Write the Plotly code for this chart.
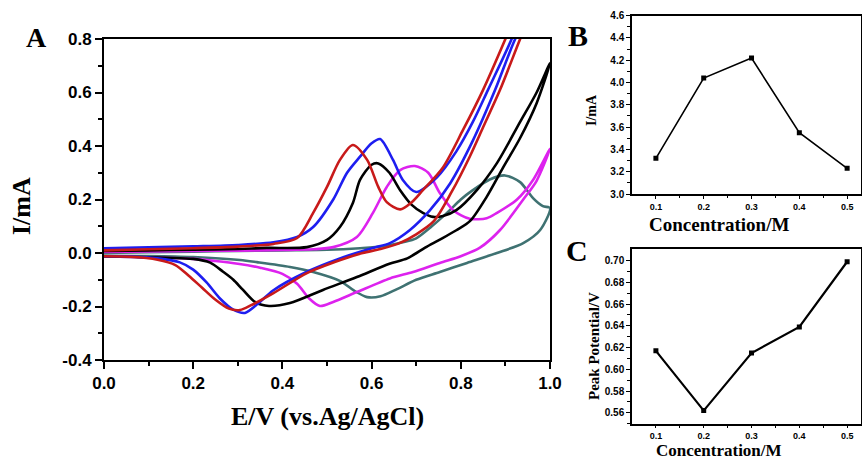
import plotly.graph_objects as go

# ---------------- Panel A data (E/V, I/mA) : each curve = forward + reverse scan
red_E = [0, 0.1, 0.2, 0.3, 0.38, 0.433, 0.469, 0.50, 0.529, 0.558, 0.59, 0.615, 0.634, 0.664, 0.69, 0.715, 0.76, 0.805, 0.85, 0.90, 0.95, 1.0,
         0.97, 0.933, 0.888, 0.85, 0.82, 0.78, 0.74, 0.70, 0.66, 0.62, 0.58, 0.53, 0.455, 0.38, 0.33, 0.305, 0.28, 0.25, 0.22, 0.19, 0.16, 0.12, 0.06, 0.0]
red_I = [0.010, 0.014, 0.018, 0.024, 0.034, 0.056, 0.15, 0.247, 0.348, 0.404, 0.348, 0.247, 0.19, 0.163, 0.19, 0.235, 0.32, 0.46, 0.61, 0.80, 1.0, 1.2,
         0.95, 0.80, 0.61, 0.47, 0.36, 0.23, 0.12, 0.07, 0.035, 0.015, 0.0, -0.026, -0.075, -0.15, -0.195, -0.213, -0.208, -0.175, -0.13, -0.085, -0.045, -0.025, -0.014, -0.012]

blue_E = [0, 0.1, 0.2, 0.3, 0.38, 0.433, 0.469, 0.514, 0.545, 0.574, 0.60, 0.619, 0.648, 0.67, 0.70, 0.747, 0.79, 0.827, 0.861, 0.914, 0.96, 1.0,
          0.97, 0.922, 0.877, 0.827, 0.776, 0.731, 0.686, 0.641, 0.603, 0.529, 0.455, 0.379, 0.345, 0.316, 0.29, 0.26, 0.23, 0.20, 0.17, 0.12, 0.06, 0.0]
blue_I = [0.018, 0.021, 0.025, 0.03, 0.04, 0.06, 0.097, 0.2, 0.3, 0.36, 0.41, 0.426, 0.348, 0.273, 0.228, 0.284, 0.38, 0.49, 0.61, 0.80, 1.0, 1.2,
          0.95, 0.80, 0.61, 0.42, 0.26, 0.16, 0.086, 0.037, 0.019, -0.02, -0.07, -0.14, -0.19, -0.224, -0.212, -0.17, -0.11, -0.062, -0.035, -0.02, -0.013, -0.012]

black_E = [0, 0.1, 0.2, 0.3, 0.365, 0.455, 0.5, 0.529, 0.558, 0.574, 0.60, 0.615, 0.64, 0.664, 0.69, 0.715, 0.738, 0.76, 0.79, 0.836, 0.881, 0.933, 0.97, 1.0,
           0.97, 0.933, 0.895, 0.858, 0.821, 0.79, 0.753, 0.72, 0.68, 0.64, 0.567, 0.491, 0.417, 0.37, 0.34, 0.31, 0.29, 0.267, 0.238, 0.20, 0.14, 0.07, 0.0]
black_I = [0.008, 0.01, 0.012, 0.015, 0.019, 0.022, 0.049, 0.097, 0.187, 0.273, 0.33, 0.335, 0.30, 0.235, 0.18, 0.15, 0.135, 0.138, 0.16, 0.235, 0.336, 0.49, 0.60, 0.71,
           0.56, 0.43, 0.32, 0.21, 0.12, 0.085, 0.05, 0.02, -0.02, -0.04, -0.09, -0.138, -0.187, -0.198, -0.185, -0.135, -0.10, -0.07, -0.036, -0.022, -0.018, -0.015, -0.013]

magenta_E = [0, 0.1, 0.2, 0.3, 0.4, 0.47, 0.514, 0.567, 0.603, 0.634, 0.664, 0.697, 0.727, 0.753, 0.783, 0.82, 0.858, 0.881, 0.926, 0.962, 1.0,
             0.97, 0.94, 0.888, 0.843, 0.80, 0.753, 0.693, 0.641, 0.567, 0.514, 0.484, 0.46, 0.433, 0.40, 0.35, 0.30, 0.25, 0.20, 0.10, 0.0]
magenta_I = [0.004, 0.006, 0.008, 0.009, 0.011, 0.014, 0.022, 0.06, 0.15, 0.247, 0.31, 0.325, 0.30, 0.224, 0.16, 0.128, 0.13, 0.15, 0.2, 0.273, 0.39,
             0.27, 0.2, 0.086, 0.02, -0.012, -0.037, -0.071, -0.095, -0.146, -0.183, -0.198, -0.17, -0.115, -0.078, -0.055, -0.04, -0.03, -0.022, -0.016, -0.013]

teal_E = [0, 0.1, 0.2, 0.3, 0.4, 0.5, 0.574, 0.626, 0.67, 0.70, 0.735, 0.769, 0.80, 0.827, 0.865, 0.899, 0.933, 0.962, 0.984, 1.0,
          0.978, 0.94, 0.881, 0.814, 0.753, 0.70, 0.657, 0.62, 0.59, 0.56, 0.53, 0.469, 0.417, 0.343, 0.305, 0.2, 0.1, 0.0]
teal_I = [0.0, 0.003, 0.005, 0.008, 0.01, 0.012, 0.018, 0.025, 0.04, 0.055, 0.10, 0.15, 0.2, 0.235, 0.275, 0.29, 0.265, 0.205, 0.175, 0.168,
          0.086, 0.037, 0.0, -0.037, -0.071, -0.10, -0.135, -0.162, -0.165, -0.14, -0.105, -0.071, -0.052, -0.034, -0.026, -0.015, -0.011, -0.01]

# ---------------- Panels B and C data
conc = [0.1, 0.2, 0.3, 0.4, 0.5]
peak_current = [3.32, 4.04, 4.22, 3.55, 3.23]
peak_potential = [0.617, 0.562, 0.615, 0.639, 0.699]

# tick labels
a_xticks = [0.0, 0.2, 0.4, 0.6, 0.8, 1.0]
a_xlabels = ["0.0", "0.2", "0.4", "0.6", "0.8", "1.0"]
a_yticks = [-0.4, -0.2, 0.0, 0.2, 0.4, 0.6, 0.8]
a_ylabels = ["-0.4", "-0.2", "0.0", "0.2", "0.4", "0.6", "0.8"]
b_yticks = [3.0, 3.2, 3.4, 3.6, 3.8, 4.0, 4.2, 4.4, 4.6]
b_ylabels = ["3.0", "3.2", "3.4", "3.6", "3.8", "4.0", "4.2", "4.4", "4.6"]
c_yticks = [0.56, 0.58, 0.60, 0.62, 0.64, 0.66, 0.68, 0.70]
c_ylabels = ["0.56", "0.58", "0.60", "0.62", "0.64", "0.66", "0.68", "0.70"]
bc_xticks = [0.1, 0.2, 0.3, 0.4, 0.5]
bc_xlabels = ["0.1", "0.2", "0.3", "0.4", "0.5"]

def bold(labels):
    return ["<b>%s</b>" % s for s in labels]

fig = go.Figure()

curves = [
    (teal_E, teal_I, "#3f7272"),
    (magenta_E, magenta_I, "#dd22ee"),
    (black_E, black_I, "#000000"),
    (blue_E, blue_I, "#1e1ef0"),
    (red_E, red_I, "#c81a1a"),
]
for E, I, col in curves:
    fig.add_trace(go.Scatter(x=E, y=I, mode="lines", xaxis="x", yaxis="y",
                             line=dict(color=col, width=2.6, shape="spline", smoothing=0.8),
                             showlegend=False, hoverinfo="skip"))

fig.add_trace(go.Scatter(x=conc, y=peak_current, mode="lines+markers", xaxis="x2", yaxis="y2",
                         line=dict(color="black", width=1.6),
                         marker=dict(symbol="square", size=5, color="black"),
                         showlegend=False))
fig.add_trace(go.Scatter(x=conc, y=peak_potential, mode="lines+markers", xaxis="x3", yaxis="y3",
                         line=dict(color="black", width=2.2),
                         marker=dict(symbol="square", size=5, color="black"),
                         showlegend=False))

W, H = 862, 462
def px(x): return x / W
def py(y): return 1 - y / H

sans = dict(family="Liberation Sans, Arial", color="black")

axis_common = dict(showline=True, linecolor="black", mirror=True, showgrid=False,
                   zeroline=False, ticks="outside", tickcolor="black", automargin=False)

fig.update_layout(
    width=W, height=H,
    margin=dict(l=0, r=0, t=0, b=0, pad=0),
    paper_bgcolor="white", plot_bgcolor="white",
    showlegend=False,
    xaxis=dict(**axis_common, domain=[px(104), px(550)], range=[0, 1.0], anchor="y",
               linewidth=2, tickwidth=2, ticklen=7,
               tickvals=a_xticks, ticktext=bold(a_xlabels),
               tickfont=dict(**sans, size=17),
               minor=dict(tickvals=[0.1, 0.3, 0.5, 0.7, 0.9], ticklen=4, tickwidth=2,
                          tickcolor="black", ticks="outside")),
    yaxis=dict(**axis_common, domain=[py(360), py(39)], range=[-0.4, 0.8], anchor="x",
               linewidth=2, tickwidth=2, ticklen=7,
               tickvals=a_yticks, ticktext=bold(a_ylabels),
               tickfont=dict(**sans, size=17),
               minor=dict(tickvals=[-0.3, -0.1, 0.1, 0.3, 0.5, 0.7], ticklen=4, tickwidth=2,
                          tickcolor="black", ticks="outside")),
    xaxis2=dict(**axis_common, domain=[px(632), px(861)], range=[0.05, 0.529], anchor="y2",
                linewidth=1.5, tickwidth=1, ticklen=3,
                tickvals=bc_xticks, ticktext=bold(bc_xlabels),
                tickfont=dict(**sans, size=9),
                minor=dict(tickvals=[0.15, 0.25, 0.35, 0.45], ticklen=2, tickwidth=1,
                           tickcolor="black", ticks="outside")),
    yaxis2=dict(**axis_common, domain=[py(194), py(15.7)], range=[3.0, 4.6], anchor="x2",
                linewidth=1.5, tickwidth=1, ticklen=4,
                tickvals=b_yticks, ticktext=bold(b_ylabels),
                tickfont=dict(**sans, size=10),
                minor=dict(tickvals=[3.1, 3.3, 3.5, 3.7, 3.9, 4.1, 4.3, 4.5], ticklen=3, tickwidth=1,
                           tickcolor="black", ticks="outside")),
    xaxis3=dict(**axis_common, domain=[px(632), px(861)], range=[0.05, 0.529], anchor="y3",
                linewidth=1.5, tickwidth=1, ticklen=2,
                tickvals=bc_xticks, ticktext=bold(bc_xlabels),
                tickfont=dict(**sans, size=9),
                minor=dict(tickvals=[0.15, 0.25, 0.35, 0.45], ticklen=2, tickwidth=1,
                           tickcolor="black", ticks="outside")),
    yaxis3=dict(**axis_common, domain=[py(424.3), py(248.7)], range=[0.5494, 0.711], anchor="x3",
                linewidth=1.5, tickwidth=1, ticklen=4,
                tickvals=c_yticks, ticktext=bold(c_ylabels),
                tickfont=dict(**sans, size=10),
                minor=dict(tickvals=[0.55, 0.57, 0.59, 0.61, 0.63, 0.65, 0.67, 0.69], ticklen=3, tickwidth=1,
                           tickcolor="black", ticks="outside")),
)

serif = "Liberation Serif, Times New Roman, serif"
def ann(text, x, y, size, angle=0):
    fig.add_annotation(text="<b>%s</b>" % text, x=px(x), y=py(y), xref="paper", yref="paper",
                       xanchor="center", yanchor="middle", showarrow=False, textangle=angle,
                       borderpad=0, font=dict(family=serif, size=size, color="black"))

ann("A", 36, 37, 28)
ann("B", 578, 35, 30)
ann("C", 577, 250, 30)
ann("I/mA", 21, 206, 26, -90)
ann("E/V (vs.Ag/AgCl)", 327, 416, 26)
ann("I/mA", 591, 110, 14, -90)
ann("Concentration/M", 719, 224, 19)
ann("Peak Potential/V", 594, 346, 15, -90)
ann("Concentration/M", 719, 450, 17)

fig.write_html("out.html", include_plotlyjs=True,
               config={"displayModeBar": False},
               post_script="document.body.style.margin='0';document.body.style.overflow='hidden';")
